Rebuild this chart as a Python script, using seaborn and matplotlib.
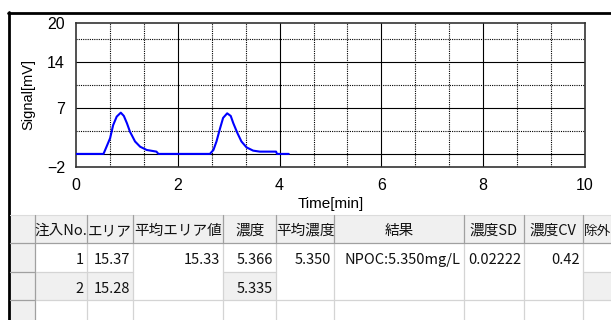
import matplotlib
matplotlib.use("Agg")
import matplotlib.pyplot as plt
import seaborn as sns
import pandas as pd
from matplotlib.patches import Rectangle
from matplotlib.lines import Line2D

# ---------------- data ----------------
time_min = [0.0, 0.54, 0.60, 0.67, 0.73, 0.80, 0.88, 0.94, 1.00, 1.06, 1.16, 1.26,
            1.39, 1.58, 1.62, 2.63, 2.70, 2.76, 2.83, 2.89, 2.97, 3.04, 3.09, 3.17,
            3.25, 3.35, 3.48, 3.61, 3.93, 3.95, 4.18]
signal_mv = [0.0, 0.0, 1.1, 2.4, 4.4, 5.7, 6.3, 5.8, 4.7, 3.4, 1.9, 1.1,
             0.6, 0.35, 0.0, 0.0, 0.6, 1.9, 3.9, 5.5, 6.2, 5.8, 4.7, 3.2,
             1.9, 1.0, 0.5, 0.35, 0.35, 0.0, 0.0]

x_ticks = [0, 2, 4, 6, 8, 10]
y_ticks = [-2, 7, 14, 20]
y_major_grid = [0, 7, 14]
y_minor_grid = [3.5, 10.5, 17.5]
x_major_grid = [2, 4, 6, 8]
x_minor_grid = [2/3, 4/3, 8/3, 10/3, 14/3, 16/3, 20/3, 22/3, 26/3, 28/3]

headers = ["注入No.", "エリア", "平均エリア値", "濃度", "平均濃度", "結果", "濃度SD", "濃度CV", "除外"]
inj_no = ["1", "2"]
area = ["15.37", "15.28"]
mean_area = ["15.33"]
conc = ["5.366", "5.335"]
mean_conc = ["5.350"]
result = ["NPOC:5.350mg/L"]
conc_sd = ["0.02222"]
conc_cv = ["0.42"]

# ---------------- figure ----------------
W, H, DPI = 611, 320, 100
sns.set_theme(style="white")
plt.rcParams['font.family'] = ['Liberation Sans', 'DejaVu Sans']
fig = plt.figure(figsize=(W / DPI, H / DPI), dpi=DPI)
fig.patch.set_facecolor("white")

# overlay axes in pixel coordinates (frame + table)
ov = fig.add_axes([0, 0, 1, 1], zorder=0)
ov.set_xlim(0, W)
ov.set_ylim(H, 0)
ov.axis("off")
ov.patch.set_alpha(0)

# chart axes
ax_l, ax_r, ax_t, ax_b = 76, 585, 23, 167
ax = fig.add_axes([ax_l / W, 1 - ax_b / H, (ax_r - ax_l) / W, (ax_b - ax_t) / H], zorder=2)
df = pd.DataFrame({"Time": time_min, "Signal": signal_mv})
sns.lineplot(data=df, x="Time", y="Signal", ax=ax, color="#0000ff", linewidth=1.5,
             zorder=5, estimator=None, sort=False)
ax.set_xlim(0, 10)
ax.set_ylim(-2, 20)
for v in y_major_grid:
    ax.axhline(v, color="black", lw=0.8, zorder=1)
for v in y_minor_grid:
    ax.axhline(v, color="black", lw=0.8, ls=(0, (1, 1)), zorder=1)
for v in x_major_grid:
    ax.axvline(v, color="black", lw=0.8, zorder=1)
for v in x_minor_grid:
    ax.axvline(v, color="black", lw=0.8, ls=(0, (1, 1)), zorder=1)
ax.set_xticks(x_ticks)
ax.set_yticks(y_ticks)
ax.set_xticklabels([str(t) for t in x_ticks])
ax.set_yticklabels(["\u22122" if t < 0 else str(t) for t in y_ticks])
ax.tick_params(axis="both", length=0, labelsize=11.5, colors="black")
ax.tick_params(axis="x", pad=8)
ax.tick_params(axis="y", pad=8)
ax.set_xlabel("Time[min]", fontsize=11, labelpad=3, color="black")
ax.set_ylabel("Signal[mV]", fontsize=10.5, labelpad=8, color="black")
for s in ax.spines.values():
    s.set_visible(True)
    s.set_color("#333333")
    s.set_linewidth(1.2)
ax.grid(False)

# outer frame
ov.add_line(Line2D([9, 9], [12, H], color="black", lw=2))
ov.add_line(Line2D([8, W], [13, 13], color="black", lw=2))

# ---------------- table ----------------
col_edges = [10, 35, 86.7, 133.3, 223.3, 276, 334.3, 464, 524, 582.7, 650]
row_edges = [215, 243, 272, 300, 330]
gray_bg = "#f0f0f0"
hdr_line = "#a0a0a0"
cell_line = "#d4d4d4"

# header background
ov.add_patch(Rectangle((col_edges[0], row_edges[0]), W - col_edges[0], row_edges[1] - row_edges[0],
                       facecolor=gray_bg, edgecolor="none", zorder=1))
# row-header column background
ov.add_patch(Rectangle((col_edges[0], row_edges[1]), col_edges[1] - col_edges[0], H - row_edges[1],
                       facecolor=gray_bg, edgecolor="none", zorder=1))
# row 2 shaded non-merged cells
for ci in [1, 2, 4, 9]:
    ov.add_patch(Rectangle((col_edges[ci], row_edges[2]), col_edges[ci + 1] - col_edges[ci],
                           row_edges[3] - row_edges[2], facecolor=gray_bg, edgecolor="none", zorder=1))

# grid lines
ov.add_line(Line2D([col_edges[0], W], [row_edges[0], row_edges[0]], color="#dcdcdc", lw=0.8, zorder=2))
ov.add_line(Line2D([col_edges[0], W], [row_edges[1], row_edges[1]], color=hdr_line, lw=0.9, zorder=3))
for ci, x in enumerate(col_edges[1:-1], start=1):
    ov.add_line(Line2D([x, x], [row_edges[0], row_edges[1]], color=hdr_line, lw=0.9, zorder=3))
    ov.add_line(Line2D([x, x], [row_edges[1], H], color=hdr_line if ci == 1 else cell_line,
                       lw=0.9, zorder=2))
# line between row 1 and row 2 only in non-merged columns
ov.add_line(Line2D([col_edges[0], col_edges[1]], [row_edges[2], row_edges[2]], color=hdr_line, lw=0.9, zorder=3))
for ci in [1, 2, 4, 9]:
    ov.add_line(Line2D([col_edges[ci], col_edges[ci + 1]], [row_edges[2], row_edges[2]],
                       color=cell_line, lw=0.9, zorder=2))
ov.add_line(Line2D([col_edges[0], col_edges[1]], [row_edges[3], row_edges[3]], color=hdr_line, lw=0.9, zorder=3))
ov.add_line(Line2D([col_edges[1], W], [row_edges[3], row_edges[3]], color=cell_line, lw=0.9, zorder=2))

tfont = dict(family=["Noto Sans CJK JP", "DejaVu Sans"], fontsize=10.5, color="#111111", zorder=4)
hdr_y = 231
row_y = [260, 289]
for ci, h in enumerate(headers, start=1):
    if h == "除外":
        f = dict(tfont)
        f["fontsize"] = 9.8
        ov.text(col_edges[ci] + 1.3, hdr_y, h, ha="left", va="center", **f)
    else:
        ov.text((col_edges[ci] + col_edges[ci + 1]) / 2, hdr_y, h, ha="center", va="center", **tfont)

cols_data = [inj_no, area, mean_area, conc, mean_conc, result, conc_sd, conc_cv]
for ci, vals in enumerate(cols_data, start=1):
    for ri, v in enumerate(vals):
        ov.text(col_edges[ci + 1] - 3, row_y[ri], v, ha="right", va="center", **tfont)

fig.savefig("out.png", dpi=DPI, facecolor="white")
